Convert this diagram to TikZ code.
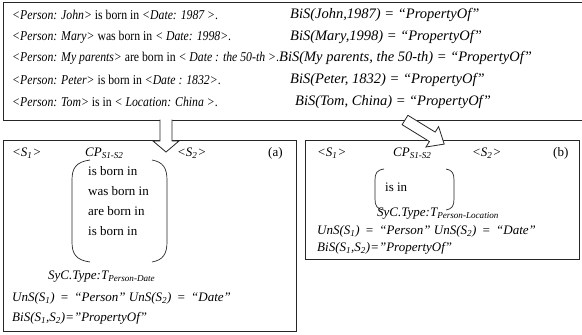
\documentclass[tikz,border=0pt]{standalone}
\usepackage{fontspec}
\usepackage{graphicx}
\setmainfont{Liberation Serif}
\newcommand{\mysub}[1]{\textsubscript{\textit{#1}}}
\newcommand{\narrowtext}[1]{\scalebox{0.87}[1]{#1}}
\begin{document}
\begin{tikzpicture}[x=1pt,y=-1pt,
  txt/.style={anchor=west, inner sep=0pt, font=\fontsize{13}{15}\selectfont},
  ltxt/.style={txt, font=\fontsize{13.5}{15}\selectfont},
  rtxt/.style={txt, font=\fontsize{14.5}{16}\selectfont},
  boxline/.style={draw=black!85, line width=0.9pt},
  thin/.style={draw=black!85, line width=0.7pt},
  blockarrow/.style={draw=black!85, line width=0.8pt, fill=white}]
\useasboundingbox (0,0) rectangle (582,335);
% boxes
\draw[boxline] (3,2) rectangle (590,120);
\draw[boxline] (3,140) rectangle (296,331);
\draw[boxline] (305,140) rectangle (579,259);
% top box text
\node[ltxt] (l1) at (12,15) {\narrowtext{\textit{<Person: John>} is born in \textit{<Date: 1987 >}.}};
\node[rtxt] (r1) at (290,15) {\textit{BiS(John,1987) = “PropertyOf”}};
\node[ltxt] (l2) at (12,37) {\narrowtext{\textit{<Person: Mary>} was born in \textit{< Date: 1998>}.}};
\node[rtxt] (r2) at (290,37) {\textit{BiS(Mary,1998) = “PropertyOf”}};
\node[ltxt] (l3) at (12,58) {\narrowtext{\textit{<Person: My parents>} are born in \textit{< Date : the 50-th >}.}};
\node[rtxt] (r3) at (279,58) {\textit{BiS(My parents, the 50-th) = “PropertyOf”}};
\node[ltxt] (l4) at (12,80) {\narrowtext{\textit{<Person: Peter>} is born in \textit{<Date : 1832>}.}};
\node[rtxt] (r4) at (290,80) {\textit{BiS(Peter, 1832) = “PropertyOf”}};
\node[ltxt] (l5) at (12,102) {\narrowtext{\textit{<Person: Tom>} is in \textit{< Location: China >}.}};
\node[rtxt] (r5) at (295,102) {\textit{BiS(Tom, China) = “PropertyOf”}};
% box (a)
\node[txt] (as1) at (12,153) {\textit{<S\mysub{1}>}};
\node[txt] (acp) at (85,153) {\textit{CP\mysub{S1-S2}}};
\node[txt] (as2) at (177,153) {\textit{<S\mysub{2}>}};
\node[txt] (alab) at (268,153) {(a)};
\draw[thin] (90,160) .. controls (76,162) and (72,168) .. (72,180) -- (72,242) .. controls (72,254) and (76,260) .. (90,262);
\draw[thin] (152,160) .. controls (163,162) and (167,168) .. (167,180) -- (167,242) .. controls (167,254) and (163,260) .. (152,262);
\node[txt] (ap1) at (88,171) {is born in};
\node[txt] (ap2) at (88,191) {was born in};
\node[txt] (ap3) at (88,211) {are born in};
\node[txt] (ap4) at (88,231) {is born in};
\node[txt] (asyc) at (48,277) {\textit{SyC.Type:T\mysub{Person-Date}}};
\node[txt] (auns) at (12,298) {\textit{UnS(S\mysub{1})\,\ =\ \,“Person” UnS(S\mysub{2})\,\ =\ \,“Date”}};
\node[txt] (abis) at (12,318) {\textit{BiS(S\mysub{1},S\mysub{2})="PropertyOf”}};
% box (b)
\node[txt] (bs1) at (317,153) {\textit{<S\mysub{1}>}};
\node[txt] (bcp) at (393,153) {\textit{CP\mysub{S1-S2}}};
\node[txt] (bs2) at (472,153) {\textit{<S\mysub{2}>}};
\node[txt] (blab) at (553,153) {(b)};
\draw[thin] (384,169) .. controls (377,170) and (375,173) .. (375,180) -- (375,199) .. controls (375,206) and (377,209) .. (384,210);
\draw[thin] (446,169) .. controls (452,170) and (454,173) .. (454,180) -- (454,199) .. controls (454,206) and (452,209) .. (446,210);
\node[txt] (bp1) at (385,187) {is in};
\node[txt] (bsyc) at (377,214) {\textit{SyC.Type:T\mysub{Person-Location}}};
\node[txt] (buns) at (317,231) {\textit{UnS(S\mysub{1})\,\ =\ \,“Person” UnS(S\mysub{2})\,\ =\ \,“Date”}};
\node[txt] (bbis) at (317,248) {\textit{BiS(S\mysub{1},S\mysub{2})="PropertyOf”}};
% block arrows
\fill[white] (160,118) rectangle (172,122);
\draw[blockarrow] (160,119.5) -- (160,141) -- (153,141) -- (166,152) -- (179,141) -- (172,141) -- (172,119.5);
\draw[blockarrow] (402.1,124.7) -- (407.9,115.3) -- (435.2,132.1) -- (438.6,126.6) -- (444.2,144.1) -- (426.0,147.0) -- (429.4,141.5) -- cycle;
\end{tikzpicture}
\end{document}
